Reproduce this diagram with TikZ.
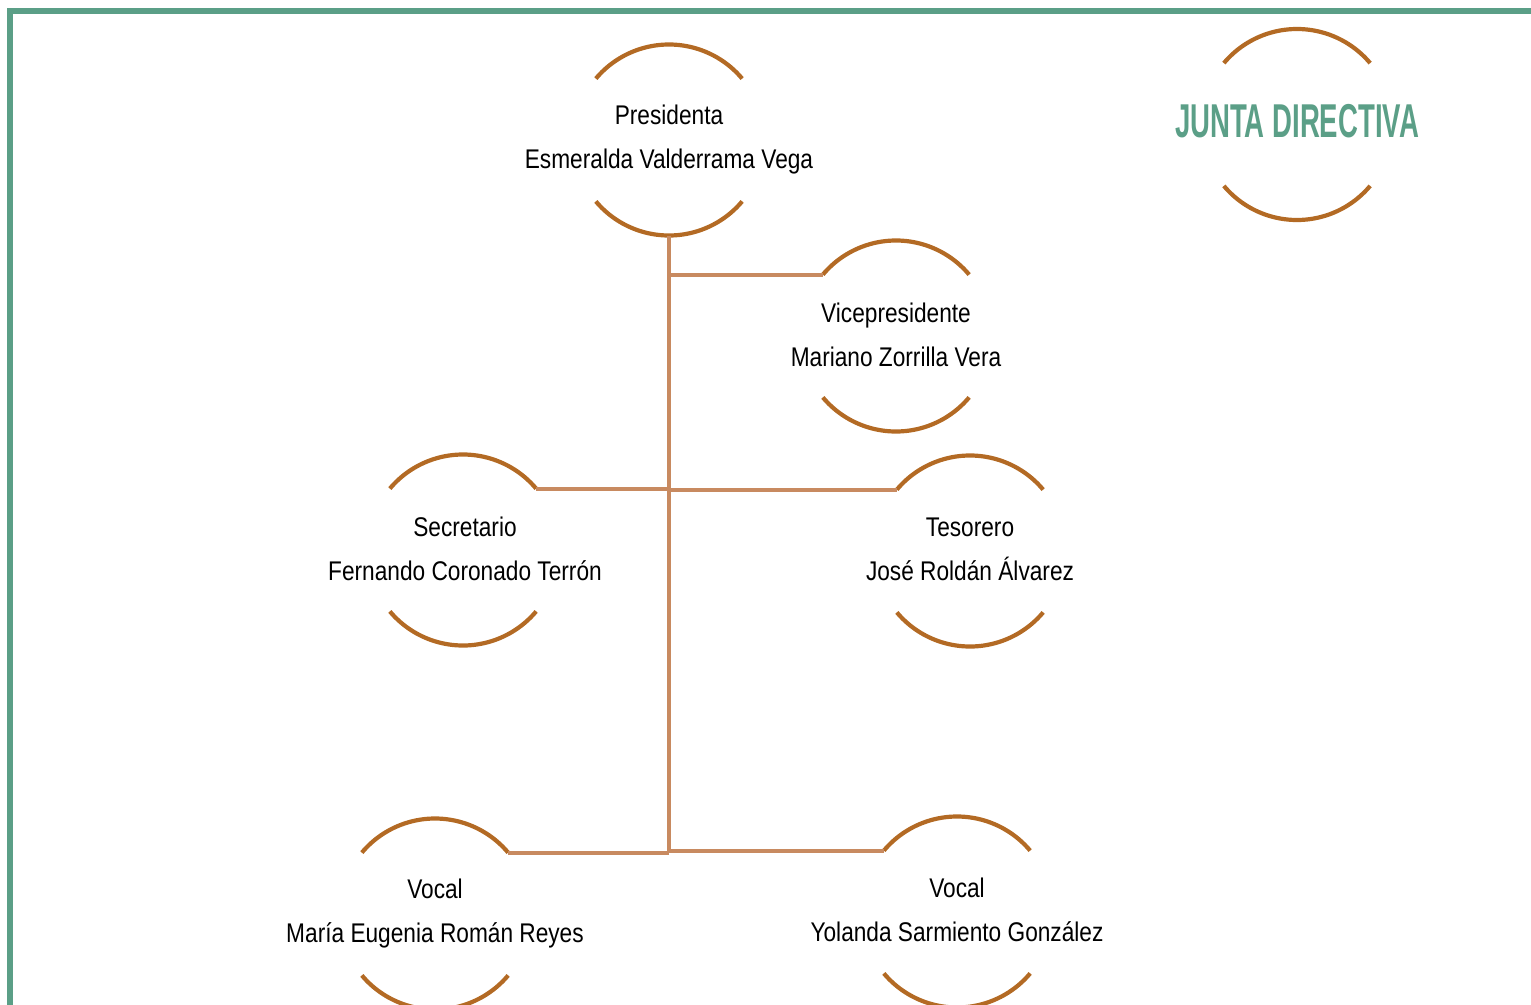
\documentclass[tikz,border=0pt]{standalone}
\usepackage{fontspec}
\setmainfont{Liberation Sans}[FakeStretch=0.84]
\newfontfamily\titlefont{Liberation Sans}[FakeStretch=0.58]
\definecolor{framegreen}{HTML}{5B9F87}
\definecolor{arcbrown}{HTML}{B36A24}
\definecolor{linktan}{HTML}{C88A60}
\tikzset{
  ring/.style={circle, minimum size=191pt, inner sep=0pt, outer sep=0pt},
  arcline/.style={draw=arcbrown, line width=4.2pt},
  link/.style={draw=linktan, line width=4pt},
  lbl/.style={align=center, font=\fontsize{27}{44}\selectfont, text=black, inner sep=0pt},
  ttl/.style={font=\titlefont\bfseries\fontsize{47.5}{50}\selectfont, text=framegreen, inner sep=0pt}
}
\newcommand\ringarcs[1]{%
  \draw[arcline] (#1.140) arc[start angle=140, end angle=40, radius=95.5pt];
  \draw[arcline] (#1.220) arc[start angle=220, end angle=320, radius=95.5pt];}
\begin{document}
\begin{tikzpicture}[x=1pt,y=1pt]
\useasboundingbox (0,0) rectangle (1531,-1004);
% frame
\coordinate (fbl) at (10,-1010);
\coordinate (ftl) at (10,-11);
\coordinate (ftr) at (1540,-11);
\draw[framegreen, line width=5.5pt] (fbl) -- (ftl) -- (ftr);
% rings
\node[ring] (pres) at (669,-140) {};
\node[ring] (vice) at (896,-336) {};
\node[ring] (secr) at (463,-550) {};
\node[ring] (teso) at (970,-551) {};
\node[ring] (voca) at (435,-914) {};
\node[ring] (vocb) at (957,-912) {};
\node[ring] (junta) at (1297,-124.5) {};
\ringarcs{pres}\ringarcs{vice}\ringarcs{secr}\ringarcs{teso}\ringarcs{voca}\ringarcs{vocb}\ringarcs{junta}
% labels
\node[lbl] (presT) at (pres) {Presidenta\\Esmeralda Valderrama Vega};
\node[lbl] (viceT) at ([yshift=1.5pt]vice) {Vicepresidente\\Mariano Zorrilla Vera};
\node[lbl] (secrT) at ([xshift=2pt,yshift=1.5pt]secr) {Secretario\\Fernando Coronado Terrón};
\node[lbl] (tesoT) at ([yshift=2pt]teso) {Tesorero\\José Roldán Álvarez};
\node[lbl] (vocaT) at (voca) {Vocal\\María Eugenia Román Reyes};
\node[lbl] (vocbT) at ([yshift=2pt]vocb) {Vocal\\Yolanda Sarmiento González};
\node[ttl, anchor=base] (juntaT) at ([yshift=-13pt]junta.center) {JUNTA DIRECTIVA};
% connectors
\draw[link] (pres.south) -- (pres.south |- voca.40);
\draw[link] (pres.south |- vice.140) -- (vice.140);
\draw[link] (pres.south |- secr.40) -- (secr.40);
\draw[link] (pres.south |- teso.140) -- (teso.140);
\draw[link] (pres.south |- voca.40) -- (voca.40);
\draw[link] (pres.south |- vocb.140) -- (vocb.140);
\end{tikzpicture}
\end{document}
